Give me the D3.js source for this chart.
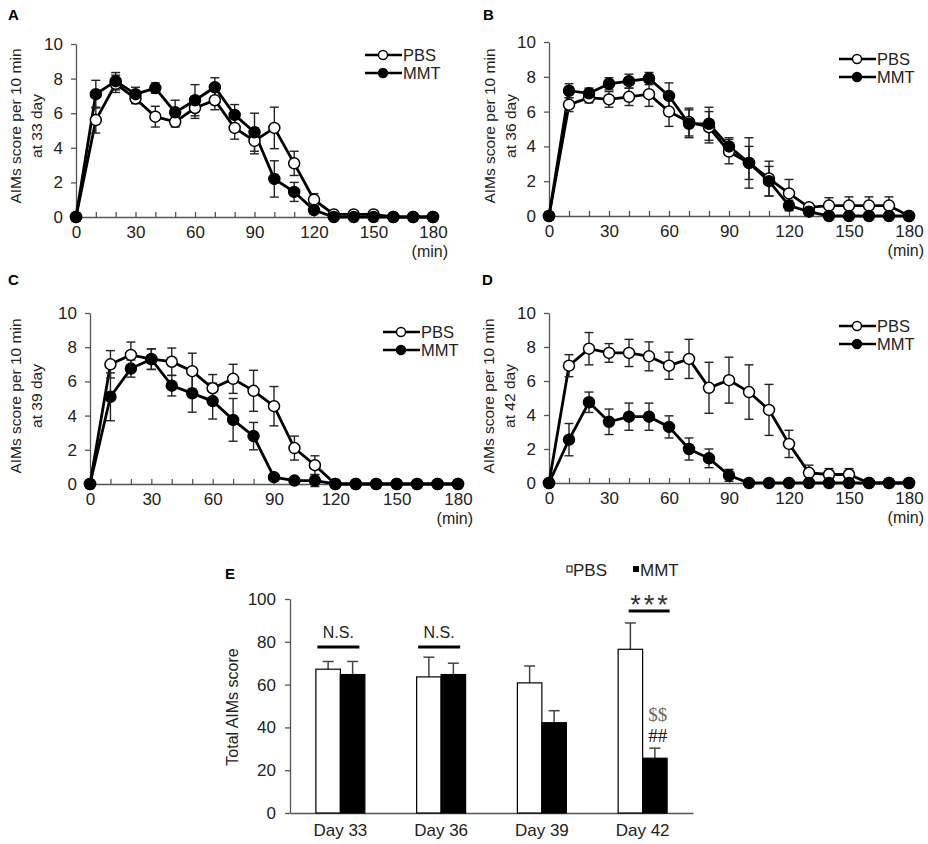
<!DOCTYPE html>
<html><head><meta charset="utf-8">
<script src="https://cdn.jsdelivr.net/npm/d3@7"></script>
<style>body{margin:0;background:#fff}svg{display:block}text{font-family:"Liberation Sans",Arial,sans-serif}</style>
</head><body><svg id="c" width="928" height="844"></svg>
<script>
// ---------- data ----------
const times = [0,10,20,30,40,50,60,70,80,90,100,110,120,130,140,150,160,170,180];
const yTicks = [0,2,4,6,8,10];
const xLabelTicks = [0,30,60,90,120,150,180];

const pbsA    = [0,5.6,7.7,6.85,5.8,5.5,6.3,6.75,5.15,4.4,5.15,3.1,1.0,0.15,0.15,0.15,0,0,0];
const pbsAErr = [0,0.75,0.5,0.3,0.6,0.3,0.6,0.55,0.65,0.75,1.2,0.7,0.35,0.1,0.1,0.1,0,0,0];
const mmtA    = [0,7.1,7.85,7.1,7.45,6.05,6.75,7.5,5.9,4.9,2.2,1.45,0.4,0,0,0,0,0,0];
const mmtAErr = [0,0.8,0.5,0.4,0.3,0.7,0.9,0.55,0.6,1.1,1.05,0.55,0.2,0,0,0,0,0,0];

const pbsB    = [0,6.4,6.8,6.7,6.85,7.0,6.0,5.4,5.1,3.7,3.05,2.15,1.3,0.5,0.6,0.6,0.6,0.6,0];
const pbsBErr = [0,0.4,0.3,0.45,0.5,0.7,0.85,0.8,0.9,0.7,0.95,1.0,0.8,0.2,0.45,0.5,0.5,0.5,0];
const mmtB    = [0,7.2,7.05,7.6,7.75,7.9,6.9,5.3,5.3,4.0,3.05,2.0,0.6,0.25,0,0,0,0,0];
const mmtBErr = [0,0.4,0.3,0.35,0.4,0.35,0.75,0.8,0.95,0.5,1.45,0.85,0.3,0.1,0,0,0,0,0];

const pbsC    = [0,7.0,7.55,7.3,7.15,6.6,5.6,6.15,5.45,4.55,2.1,1.1,0,0,0,0,0,0,0];
const pbsCErr = [0,0.8,0.75,0.6,0.8,1.05,0.8,0.85,1.2,1.15,0.7,0.55,0,0,0,0,0,0,0];
const mmtC    = [0,5.1,6.75,7.3,5.75,5.3,4.85,3.75,2.8,0.4,0.2,0.2,0,0,0,0,0,0,0];
const mmtCErr = [0,1.4,0.5,0.6,0.6,1.1,1.05,1.25,0.8,0.2,0.1,0.35,0,0,0,0,0,0,0];

const pbsD    = [0,6.9,7.9,7.65,7.65,7.45,6.9,7.3,5.6,6.05,5.35,4.3,2.3,0.6,0.5,0.5,0,0,0];
const pbsDErr = [0,0.65,0.95,0.55,0.8,0.85,0.8,1.15,1.5,1.35,1.6,1.5,0.8,0.45,0.35,0.35,0,0,0];
const mmtD    = [0,2.55,4.75,3.6,3.9,3.9,3.3,2.0,1.45,0.45,0,0,0,0,0,0,0,0,0];
const mmtDErr = [0,0.95,0.6,0.75,0.8,0.8,0.65,0.65,0.55,0.35,0,0,0,0,0,0,0,0,0];

const days = ["Day 33","Day 36","Day 39","Day 42"];
const totalPBS    = [67.2,63.6,60.8,76.5];
const totalPBSErr = [3.6,9.2,7.9,12.3];
const totalMMT    = [64.7,64.7,42.2,25.6];
const totalMMTErr = [6.1,5.3,5.6,4.7];
const eTicks = [0,20,40,60,80,100];

// ---------- drawing ----------
const svg = d3.select("#c");
const AX = "#555";

function panel(cfg){
  const g = svg.append("g");
  const x = d3.scaleLinear().domain([0,180]).range([cfg.x0, cfg.x1]);
  const y = d3.scaleLinear().domain([0,10]).range([cfg.y0, cfg.y1]);

  // y axis
  const ya = g.append("g").attr("transform",`translate(${cfg.x0},0)`)
    .call(d3.axisLeft(y).tickValues(yTicks).tickSizeInner(5).tickSizeOuter(0).tickPadding(8));
  ya.select(".domain").attr("stroke",AX).attr("stroke-width",1.3);
  ya.selectAll(".tick line").attr("stroke",AX).attr("stroke-width",1.3);
  ya.selectAll(".tick text").attr("font-size",17).attr("fill","#222").style("font-family","'Liberation Sans',Arial,sans-serif");

  // x axis
  const xa = g.append("g").attr("transform",`translate(0,${cfg.y0})`)
    .call(d3.axisBottom(x).tickValues(times).tickSizeInner(-5).tickSizeOuter(0).tickPadding(9)
      .tickFormat(d => xLabelTicks.includes(d) ? d : ""));
  xa.select(".domain").attr("stroke",AX).attr("stroke-width",1.3);
  xa.selectAll(".tick line").attr("stroke",AX).attr("stroke-width",1.3);
  xa.selectAll(".tick text").attr("font-size",17).attr("fill","#222").style("font-family","'Liberation Sans',Arial,sans-serif");

  g.append("text").attr("x",cfg.x1+15).attr("y",cfg.y0+40).attr("text-anchor","end")
    .attr("font-size",16).attr("fill","#222").text("(min)");

  // y label
  const yl = g.append("text").attr("transform",`translate(${cfg.lx},${cfg.ly}) rotate(-90)`)
    .attr("text-anchor","middle").attr("font-size",15.5).attr("fill","#222");
  yl.append("tspan").attr("x",0).attr("y",0).text("AIMs score per 10 min");
  yl.append("tspan").attr("x",0).attr("y",21).text(cfg.day);

  // panel letter
  g.append("text").attr("x",cfg.px).attr("y",cfg.py).attr("font-size",15).attr("font-weight","bold").text(cfg.letter);

  const line = d3.line().x((d,i)=>x(times[i])).y(d=>y(d));
  const series = [
    {v:cfg.pbs, e:cfg.pbsE, fill:"#fff"},
    {v:cfg.mmt, e:cfg.mmtE, fill:"#000"}
  ];
  series.forEach(s=>{
    g.append("path").datum(s.v).attr("d",line).attr("fill","none").attr("stroke","#000").attr("stroke-width",2.8);
  });
  series.forEach(s=>{
    const eb = g.append("g").attr("stroke","#222").attr("stroke-width",1.4);
    s.v.forEach((v,i)=>{
      const e = s.e[i]; if(!e) return;
      const cx = x(times[i]);
      eb.append("line").attr("x1",cx).attr("x2",cx).attr("y1",y(v-e)).attr("y2",y(v+e));
      eb.append("line").attr("x1",cx-4.5).attr("x2",cx+4.5).attr("y1",y(v-e)).attr("y2",y(v-e));
      eb.append("line").attr("x1",cx-4.5).attr("x2",cx+4.5).attr("y1",y(v+e)).attr("y2",y(v+e));
    });
  });
  series.forEach(s=>{
    g.append("g").selectAll("circle").data(s.v).join("circle")
      .attr("cx",(d,i)=>x(times[i])).attr("cy",d=>y(d)).attr("r",5.5)
      .attr("fill",s.fill).attr("stroke","#000").attr("stroke-width",1.5);
  });

  // legend
  const lg = g.append("g");
  [["PBS","#fff",cfg.lgy],["MMT","#000",cfg.lgy+18]].forEach(([t,f,yy])=>{
    lg.append("line").attr("x1",cfg.lgx).attr("x2",cfg.lgx+37).attr("y1",yy).attr("y2",yy).attr("stroke","#000").attr("stroke-width",2.6);
    lg.append("circle").attr("cx",cfg.lgx+18).attr("cy",yy).attr("r",4.5).attr("fill",f).attr("stroke","#000").attr("stroke-width",1.4);
    lg.append("text").attr("x",cfg.lgx+38).attr("y",yy+6).attr("font-size",16.5).attr("fill","#222").text(t);
  });
}

panel({letter:"A",px:8,py:20,x0:76,x1:433,y0:217,y1:44,lx:21,ly:126,day:"at 33 day",lgx:365,lgy:55,
  pbs:pbsA,pbsE:pbsAErr,mmt:mmtA,mmtE:mmtAErr});
panel({letter:"B",px:483,py:20,x0:549,x1:909,y0:216,y1:42,lx:495,ly:126,day:"at 36 day",lgx:839,lgy:59,
  pbs:pbsB,pbsE:pbsBErr,mmt:mmtB,mmtE:mmtBErr});
panel({letter:"C",px:8,py:285,x0:90,x1:458,y0:484,y1:313,lx:21,ly:396,day:"at 39 day",lgx:383,lgy:332,
  pbs:pbsC,pbsE:pbsCErr,mmt:mmtC,mmtE:mmtCErr});
panel({letter:"D",px:482,py:285,x0:549,x1:909,y0:483,y1:313,lx:494,ly:396,day:"at 42 day",lgx:839,lgy:326,
  pbs:pbsD,pbsE:pbsDErr,mmt:mmtD,mmtE:mmtDErr});

// ---------- panel E ----------
(function(){
  const g = svg.append("g");
  const xb = d3.scaleBand().domain(days).range([290,693]).paddingInner(0.514).paddingOuter(0.257);
  const xi = d3.scaleBand().domain(["PBS","MMT"]).range([0,xb.bandwidth()]);
  const y = d3.scaleLinear().domain([0,100]).range([813,599]);

  const ya = g.append("g").attr("transform","translate(290,0)")
    .call(d3.axisLeft(y).tickValues(eTicks).tickSizeInner(5).tickSizeOuter(0).tickPadding(9));
  ya.select(".domain").attr("stroke",AX).attr("stroke-width",1.3);
  ya.selectAll(".tick line").attr("stroke",AX).attr("stroke-width",1.3);
  ya.selectAll(".tick text").attr("font-size",17).attr("fill","#222").style("font-family","'Liberation Sans',Arial,sans-serif");

  const xa = g.append("g").attr("transform","translate(0,813)")
    .call(d3.axisBottom(xb).tickSize(0).tickPadding(11));
  xa.select(".domain").attr("stroke",AX).attr("stroke-width",1.3);
  xa.selectAll(".tick text").attr("font-size",17).attr("fill","#222").style("font-family","'Liberation Sans',Arial,sans-serif");

  g.append("text").attr("transform","translate(238,707) rotate(-90)").attr("text-anchor","middle")
    .attr("font-size",16).attr("fill","#222").text("Total AIMs score");
  g.append("text").attr("x",225).attr("y",579).attr("font-size",15).attr("font-weight","bold").text("E");

  const groups = [
    {k:"PBS", v:totalPBS, e:totalPBSErr, fill:"#fff"},
    {k:"MMT", v:totalMMT, e:totalMMTErr, fill:"#000"}
  ];
  groups.forEach(s=>{
    s.v.forEach((v,i)=>{
      const bx = xb(days[i]) + xi(s.k), bw = xi.bandwidth();
      const cx = bx + bw/2;
      g.append("line").attr("x1",cx).attr("x2",cx).attr("y1",y(v)).attr("y2",y(v+s.e[i])).attr("stroke","#444").attr("stroke-width",1.5);
      g.append("line").attr("x1",cx-5.5).attr("x2",cx+5.5).attr("y1",y(v+s.e[i])).attr("y2",y(v+s.e[i])).attr("stroke","#444").attr("stroke-width",1.5);
      g.append("rect").attr("x",bx).attr("y",y(v)).attr("width",bw).attr("height",y(0)-y(v))
        .attr("fill",s.fill).attr("stroke","#000").attr("stroke-width",1.2);
    });
  });

  // significance
  [0,1].forEach(i=>{
    const c = xb(days[i]) + xb.bandwidth()/2;
    g.append("line").attr("x1",c-23).attr("x2",c+19).attr("y1",y(77.6)).attr("y2",y(77.6)).attr("stroke","#000").attr("stroke-width",3);
    g.append("text").attr("x",c-2).attr("y",y(77.6)-9).attr("text-anchor","middle").attr("font-size",16).attr("fill","#222").text("N.S.");
  });
  const c3 = xb(days[3]) + xb.bandwidth()/2;
  g.append("line").attr("x1",c3-14).attr("x2",c3+27).attr("y1",y(94.4)).attr("y2",y(94.4)).attr("stroke","#000").attr("stroke-width",3);
  g.append("text").attr("x",c3+8).attr("y",y(94.4)+3).attr("text-anchor","middle").attr("font-size",27).attr("letter-spacing",3).attr("fill","#333").text("***");
  const mx = xb(days[3]) + xi("MMT") + xi.bandwidth()/2 + 3;
  g.append("text").attr("x",mx).attr("y",721).attr("text-anchor","middle").attr("font-size",19)
    .style("font-family","'Liberation Serif','Times New Roman',serif").attr("fill","#666").text("$$");
  g.append("text").attr("x",mx).attr("y",742).attr("text-anchor","middle").attr("font-size",19)
    .style("font-family","'Liberation Serif','Times New Roman',serif").attr("fill","#111").text("##");

  // legend
  g.append("rect").attr("x",567).attr("y",566).attr("width",5).attr("height",6).attr("fill","#fff").attr("stroke","#000").attr("stroke-width",1);
  g.append("text").attr("x",573).attr("y",576).attr("font-size",17).attr("fill","#222").text("PBS");
  g.append("rect").attr("x",633).attr("y",566).attr("width",6).attr("height",6).attr("fill","#000");
  g.append("text").attr("x",640).attr("y",576).attr("font-size",17).attr("fill","#222").text("MMT");
})();
</script></body></html>
